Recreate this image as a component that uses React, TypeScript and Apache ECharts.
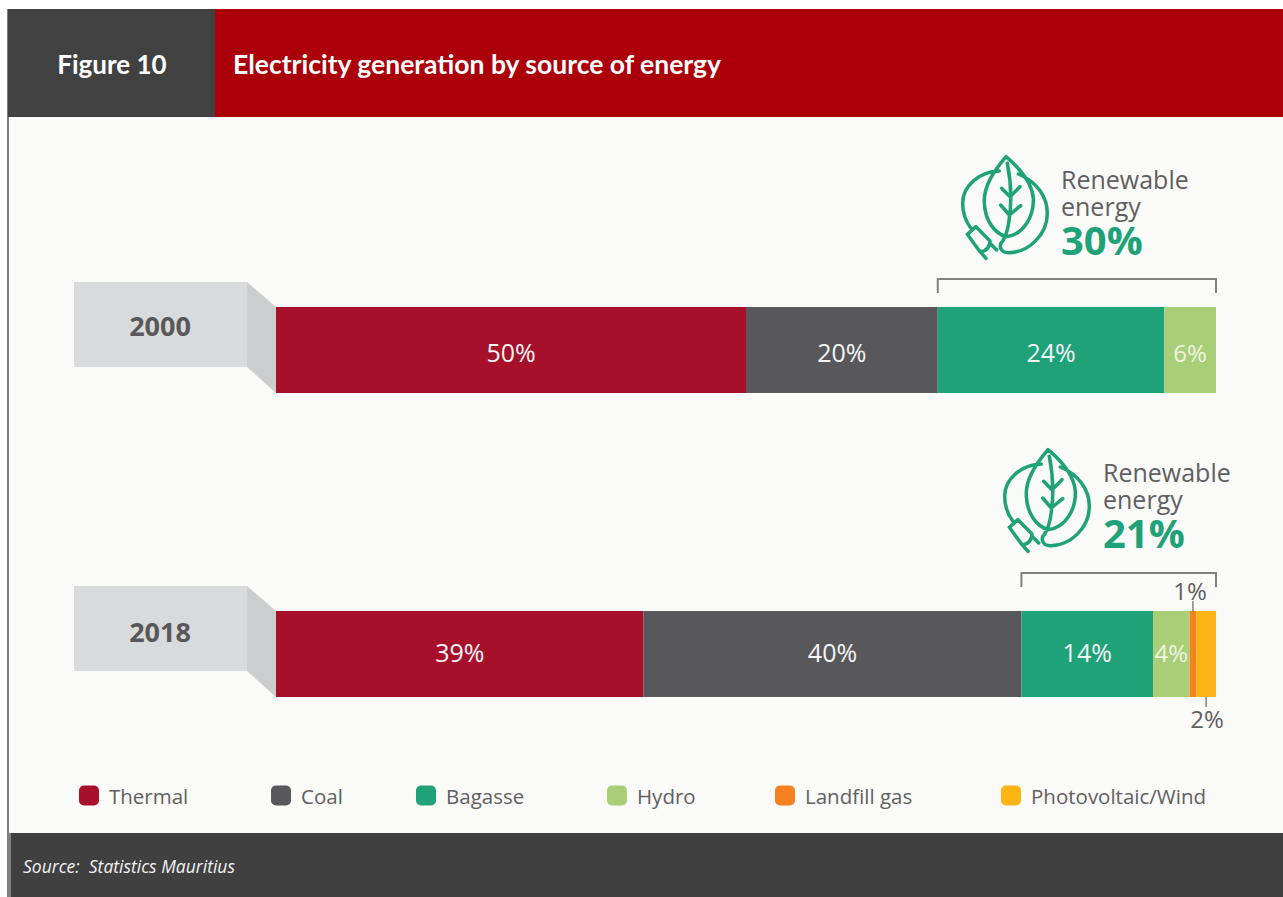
import React, { useEffect, useRef } from "react";
import * as echarts from "echarts";

const years = ["2000", "2018"];
const sources = ["Thermal", "Coal", "Bagasse", "Hydro", "Landfill gas", "Photovoltaic/Wind"];
const thermal = [50, 39.1];
const coal = [20.4, 40.2];
const bagasse = [24.1, 14];
const hydro = [5.5, 3.9];
const landfill = [null, 0.7];
const pvWind = [null, 2.1];
const printed = [
  ["50%", "39%"],
  ["20%", "40%"],
  ["24%", "14%"],
  ["6%", "4%"],
  ["", "1%"],
  ["", "2%"],
];
const renewableShares = ["30%", "21%"];
const colours = ["#a6102a", "#58585a", "#1fa278", "#a9ce78", "#f58220", "#fdb515"];
const legendLefts = [79, 271, 416, 607, 775, 1001];

const s = (n: number) => +(n / 3).toFixed(2);
const p = (t: string) => t.replace(/-?\d+(\.\d+)?/g, (m) => String(s(parseFloat(m))));
const leafPath = p(
  "M228 50 C190 95 160 140 163 190 C166 245 195 280 228 290 C280 285 312 230 310 175 C306 125 270 85 228 50 Z " +
    "M232 70 C244 130 246 190 236 250 C232 275 226 290 218 303 " +
    "M215 145 L240 170 L270 140 M212 195 L238 225 L272 197 " +
    "M208 93 C150 95 98 135 98 190 C98 220 108 245 122 264 " +
    "M265 102 C320 125 352 170 352 220 C352 285 295 338 235 338 C210 338 205 315 218 303 " +
    "M112 283 L138 260 L180 303 C180 320 168 335 150 335 Z " +
    "M180 310 L200 330 M150 335 L168 355 "
);
echarts.graphic.registerShape("leafPlug", echarts.graphic.extendPath(leafPath, {}));

const FONT = "Open Sans";
const seriesValues = [thermal, coal, bagasse, hydro, landfill, pvWind];
const insideShift = [2, -2];

export default function App() {
  const ref = useRef<HTMLDivElement>(null);
  useEffect(() => {
    document.body.style.margin = "0";
    document.body.style.background = "#ffffff";
    const chart = echarts.init(ref.current!, null, { renderer: "svg" });
    const option: any = {
      animation: false,
      backgroundColor: "#ffffff",
      textStyle: { fontFamily: FONT },
      grid: { left: 276, width: 940, top: 198, height: 608 },
      xAxis: { type: "value", min: 0, max: 100, show: false },
      yAxis: { type: "category", data: years, inverse: true, show: false },
      legend: sources.map((name, i) => ({
        data: [{ name, icon: "roundRect" }],
        left: legendLefts[i],
        top: 785,
        itemWidth: 20,
        itemHeight: 20,
        itemGap: 0,
        padding: 0,
        selectedMode: false,
        textStyle: { color: "#5f5f61", fontSize: 20.5, fontFamily: FONT, padding: [0, 0, 0, 5] },
      })),
      series: sources.map((name, i) => ({
        type: "bar",
        name,
        stack: "share",
        barWidth: 86,
        data: seriesValues[i].map((value, c) => ({
          value,
          label: { offset: i === 4 ? [-3, 0] : i === 5 ? [1, 0] : [0, insideShift[c]] },
        })),
        itemStyle: { color: colours[i] },
        z: 5,
        label: {
          show: true,
          position: i === 4 ? "top" : i === 5 ? "bottom" : "inside",
          distance: 9,
          color: i >= 4 ? "#5f5f61" : i === 3 ? "#eef5e2" : "#f4f4f4",
          fontSize: i === 3 ? 24 : i >= 4 ? 24 : 25,
          fontFamily: FONT,
          formatter: (d: any) => printed[i][d.dataIndex],
        },
      })),
    };
    chart.setOption(option);

    const px = (v: number) => chart.convertToPixel({ xAxisIndex: 0 }, v) as number;
    const py = (c: number) => chart.convertToPixel({ yAxisIndex: 0 }, c) as number;
    const annotations: any[] = [
      { type: "rect", z: -10, shape: { x: 8, y: 9, width: 1275, height: 888 }, style: { fill: "#fafaf8" } },
      { type: "rect", z: -9, shape: { x: 7, y: 9, width: 2, height: 888 }, style: { fill: "#7d7d7d" } },
      { type: "rect", z: -8, shape: { x: 8, y: 9, width: 207, height: 108 }, style: { fill: "#414141" } },
      { type: "rect", z: -8, shape: { x: 215, y: 9, width: 1068, height: 108 }, style: { fill: "#ab0009" } },
      { type: "rect", z: -8, shape: { x: 11, y: 833, width: 1272, height: 64 }, style: { fill: "#404040" } },
      { type: "rect", z: -8, shape: { x: 7, y: 833, width: 4, height: 64 }, style: { fill: "#808080" } },
      { type: "text", x: 112, y: 64, style: { text: "Figure 10", fill: "#ffffff", font: `bold 26px Lato`, align: "center", verticalAlign: "middle" } },
      { type: "text", x: 233, y: 64, style: { text: "Electricity generation by source of energy", fill: "#ffffff", font: `bold 26.5px Lato`, verticalAlign: "middle" } },
      { type: "text", x: 23, y: 866, style: { text: "Source:  Statistics Mauritius", fill: "#f2f2f2", font: `italic 17.5px '${FONT}'`, verticalAlign: "middle" } },
    ];

    years.forEach((year, c) => {
      const cy = py(c);
      const top = cy - 43;
      const bottom = cy + 43;
      annotations.push(
        { type: "rect", shape: { x: 74, y: top - 25, width: 173, height: 85 }, style: { fill: "#d9dadc" } },
        { type: "polygon", shape: { points: [[247, top - 25], [276, top], [276, bottom], [247, bottom - 26]] }, style: { fill: "#cbcdcf" } },
        { type: "text", x: 160, y: c === 0 ? cy - 25 : cy - 23, style: { text: year, fill: "#58585a", font: `bold 27px '${FONT}'`, align: "center", verticalAlign: "middle" } }
      );
      const startX = px(thermal[c] + coal[c]);
      const endX = px(thermal[c] + coal[c] + bagasse[c] + hydro[c] + (landfill[c] ?? 0) + (pvWind[c] ?? 0));
      const by = c === 0 ? 279 : 573;
      annotations.push({
        type: "polyline",
        shape: { points: [[startX, by + 14], [startX, by], [endX, by], [endX, by + 14]] },
        style: { stroke: "#808080", lineWidth: 2, fill: "none" },
      });
      const dx = c * 42;
      const iconX = 930 + dx;
      const iconY = c === 0 ? 140 : 433;
      annotations.push(
        { type: "leafPlug", x: iconX, y: iconY, style: { fill: "none", stroke: "#1fa278", lineWidth: 3.5, lineJoin: "round", lineCap: "round" } },
        {
          type: "text",
          x: 1061 + dx,
          y: c === 0 ? 165 : 458,
          style: {
            text: `{a|Renewable}\n{a|energy}\n{b|${renewableShares[c]}}`,
            rich: {
              a: { fontFamily: FONT, fontSize: 25, lineHeight: 27, fill: "#5f5f61", color: "#5f5f61" },
              b: { fontFamily: FONT, fontSize: 40, fontWeight: "bold", lineHeight: 40, fill: "#1fa278", color: "#1fa278" },
            },
          },
        }
      );
    });

    // leader lines of the two narrow 2018 segments
    const base = thermal[1] + coal[1] + bagasse[1] + hydro[1];
    const lx = px(base + (landfill[1] ?? 0) / 2);
    const rx = px(base + (landfill[1] ?? 0) + (pvWind[1] ?? 0) / 2);
    const cy2 = py(1);
    annotations.push(
      { type: "line", z: 6, shape: { x1: lx, y1: cy2 - 53, x2: lx, y2: cy2 - 43 }, style: { stroke: "#808080", lineWidth: 1.5 } },
      { type: "line", z: 6, shape: { x1: rx, y1: cy2 + 43, x2: rx, y2: cy2 + 53 }, style: { stroke: "#808080", lineWidth: 1.5 } }
    );
    chart.setOption({ graphic: { elements: annotations } });
    return () => chart.dispose();
  }, []);
  return <div ref={ref} style={{ width: 1283, height: 897 }} />;
}
